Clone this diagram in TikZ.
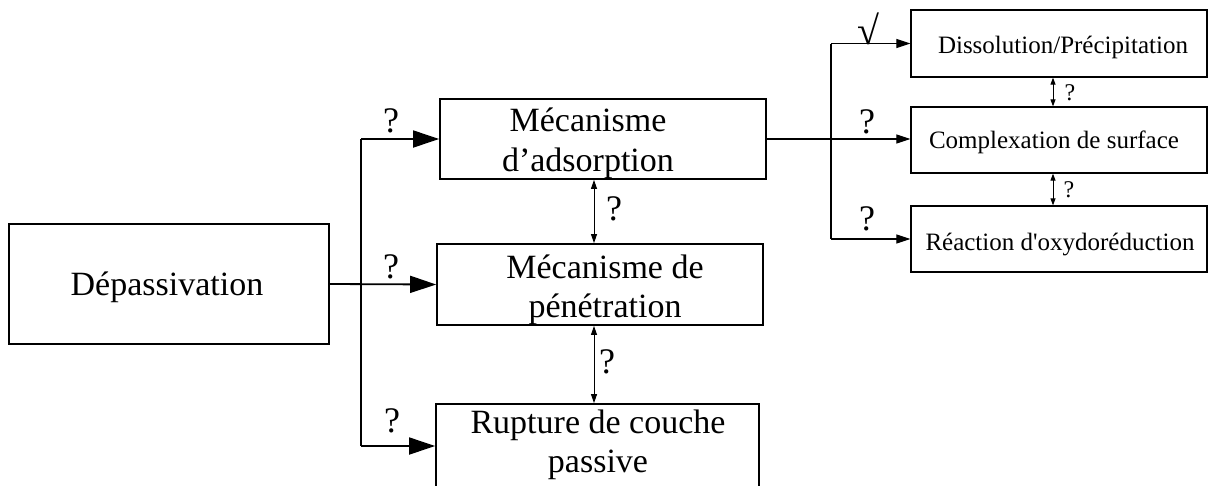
\documentclass[tikz,border=0pt]{standalone}
\usepackage{fontspec}
\setmainfont{Liberation Serif}[Ligatures=TeXOff]
\usetikzlibrary{arrows.meta}
\tikzset{
  bigbox/.style={draw, line width=1.8pt, inner sep=0pt},
  smallbox/.style={draw, line width=1.3pt, inner sep=0pt},
  bigtxt/.style={anchor=base, inner sep=0pt, font=\fontsize{34}{40}\selectfont},
  smalltxt/.style={anchor=base, inner sep=0pt, font=\fontsize{25}{30}\selectfont},
  bigq/.style={anchor=base, inner sep=0pt, font=\fontsize{36}{40}\selectfont},
  smallq/.style={anchor=base, inner sep=0pt, font=\fontsize{24}{28}\selectfont},
  bigarrow/.style={line width=1.8pt, -{Triangle[length=26pt,width=17pt]}},
  thinarrow/.style={line width=1.1pt, -{Triangle[length=14pt,width=9pt]}},
  dblarrow/.style={line width=1pt, {Triangle[length=9pt,width=6pt]}-{Triangle[length=9pt,width=6pt]}},
  sdblarrow/.style={line width=1pt, {Triangle[length=7pt,width=5pt]}-{Triangle[length=7pt,width=5pt]}},
}
\begin{document}
\begin{tikzpicture}[x=1pt,y=-1pt]
\useasboundingbox (0,0) rectangle (1209,485);
\clip (0,0) rectangle (1209,485);

% boxes
\node[bigbox, minimum width=320pt, minimum height=120pt] (dep) at (169,284) {};
\node[bigbox, minimum width=326pt, minimum height=80pt] (ads) at (603,139) {};
\node[bigbox, minimum width=326pt, minimum height=81pt] (pen) at (600,284.5) {};
\node[bigbox, minimum width=323pt, minimum height=84pt] (rup) at (597.5,446) {};
\node[smallbox, minimum width=296pt, minimum height=67pt] (dis) at (1059,43.5) {};
\node[smallbox, minimum width=296pt, minimum height=66pt] (com) at (1059,140) {};
\node[smallbox, minimum width=296pt, minimum height=66pt] (rea) at (1059,239) {};

% texts
\node[anchor=base, inner sep=0pt, font=\fontsize{34}{40}\selectfont] (tdep) at (167,295) {Dépassivation};
\node[bigtxt] (tads1) at (588,131.7) {Mécanisme};
\node[bigtxt] (tads2) at (588,171.7) {d’adsorption};
\node[bigtxt] (tpen1) at (605,278) {Mécanisme de};
\node[bigtxt] (tpen2) at (605,317) {pénétration};
\node[bigtxt] (trup1) at (598,433) {Rupture de couche};
\node[bigtxt] (trup2) at (598,472) {passive};
\node[smalltxt] (tdis) at (1063,53) {Dissolution/Précipitation};
\node[smalltxt] (tcom) at (1054,148) {Complexation de surface};
\node[smalltxt] (trea) at (1060,250) {Réaction d'oxydoréduction};

% left connectors
\coordinate (xl) at (361,0);
\draw[line width=1.8pt] (xl |- ads.west) -- (xl |- rup.west);
\draw[bigarrow] (dep.east) -- (pen.west);
\draw[bigarrow] (xl |- ads.west) -- (ads.west);
\draw[bigarrow] (xl |- rup.west) -- (rup.west);

\coordinate (xd) at (594,0);
\draw[dblarrow] (xd |- ads.south) -- (xd |- pen.north);
\draw[dblarrow] (xd |- pen.south) -- (xd |- rup.north);

% right connectors
\coordinate (xr) at (831,0);
\draw[line width=1.1pt] (xr |- dis.west) -- (xr |- rea.west);
\draw[thinarrow] (ads.east) -- (ads.east -| com.west);
\draw[thinarrow] (xr |- dis.west) -- (dis.west);
\draw[thinarrow] (xr |- rea.west) -- (rea.west);

\coordinate (xs) at (1053,0);
\draw[sdblarrow] (xs |- dis.south) -- (xs |- com.north);
\draw[sdblarrow] (xs |- com.south) -- (xs |- rea.north);

% labels
\node[bigq] (q1) at (391,132) {?};
\node[bigq] (q2) at (391,278) {?};
\node[bigq] (q3) at (392,432) {?};
\node[bigq] (q4) at (614,220) {?};
\node[bigq] (q5) at (607,373) {?};
\node[anchor=base, inner sep=0pt, font=\fontsize{40}{44}\selectfont] (q6) at (868,44) {√};
\node[bigq] (q7) at (867,133) {?};
\node[bigq] (q8) at (867,230) {?};
\node[smallq] (q9) at (1070,100) {?};
\node[smallq] (q10) at (1069,197) {?};
\end{tikzpicture}
\end{document}
